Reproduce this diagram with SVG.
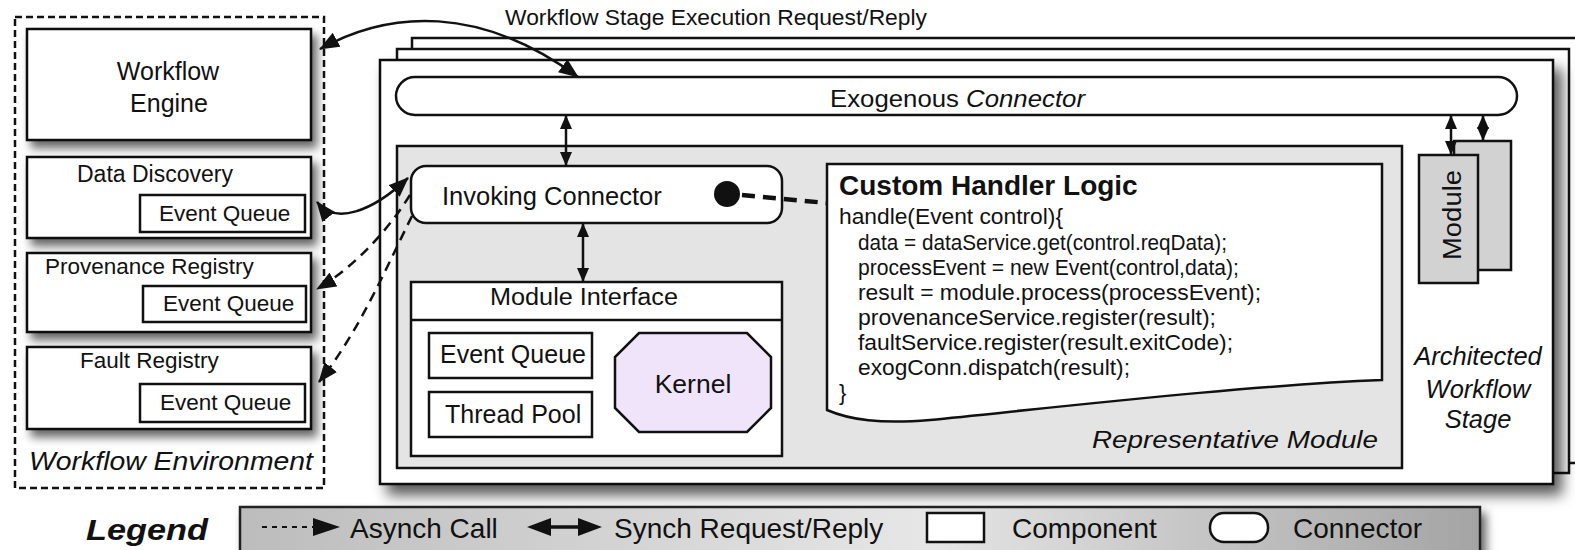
<svg xmlns="http://www.w3.org/2000/svg" width="1575" height="550" viewBox="0 0 1575 550">
<defs>
<style>
text{font-family:"Liberation Sans",Arial,sans-serif;fill:#111}
.box{fill:#fff;stroke:#111;stroke-width:2.5}
.ln{fill:none;stroke:#111;stroke-width:2.5}
.dash{fill:none;stroke:#111;stroke-width:2.5;stroke-dasharray:10 7}
.it{font-style:italic}
.code{font-size:22px}
</style>
<filter id="sh" x="-10%" y="-10%" width="130%" height="140%"><feDropShadow dx="5" dy="7" stdDeviation="5" flood-color="#000" flood-opacity="0.6"/></filter>
<filter id="shBig" x="-5%" y="-5%" width="115%" height="125%"><feDropShadow dx="8" dy="10" stdDeviation="7" flood-color="#000" flood-opacity="0.65"/></filter>
<linearGradient id="lg" x1="0" x2="1" y1="0" y2="0">
<stop offset="0" stop-color="#bcbcbc"/><stop offset="0.55" stop-color="#e6e6e6"/><stop offset="1" stop-color="#a4a4a4"/>
</linearGradient>
<marker id="ah" viewBox="0 0 14 12" refX="13" refY="6" markerWidth="14" markerHeight="12" markerUnits="userSpaceOnUse" orient="auto-start-reverse"><path d="M0,0 L14,6 L0,12 z" fill="#111"/></marker>
<marker id="ahL" viewBox="0 0 20 16" refX="19" refY="8" markerWidth="20" markerHeight="16" markerUnits="userSpaceOnUse" orient="auto-start-reverse"><path d="M0,0 L20,8 L0,16 z" fill="#111"/></marker>
</defs>
<rect width="1575" height="550" fill="#fff"/>

<!-- Workflow environment -->
<g id="workflow-environment">
<rect x="15" y="17" width="309" height="471" fill="none" stroke="#111" stroke-width="2.5" stroke-dasharray="7 4"/>
<text x="29" y="470" class="it" font-size="26" textLength="284" lengthAdjust="spacingAndGlyphs">Workflow Environment</text>
</g>
<g id="workflow-engine">
<rect class="box" x="27" y="29" width="284" height="111" filter="url(#sh)"/>
<text x="168" y="80" font-size="25" text-anchor="middle">Workflow</text>
<text x="169" y="112" font-size="25" text-anchor="middle">Engine</text>
</g>
<g id="data-discovery">
<rect class="box" x="27" y="157" width="284" height="81" filter="url(#sh)"/>
<text x="77" y="182" font-size="23">Data Discovery</text>
<rect class="box" x="140" y="195" width="165" height="37"/>
<text x="159" y="221" font-size="22.5">Event Queue</text>
</g>
<g id="provenance-registry">
<rect class="box" x="27" y="253" width="284" height="79" filter="url(#sh)"/>
<text x="45" y="274" font-size="22.5">Provenance Registry</text>
<rect class="box" x="143" y="286" width="163" height="36"/>
<text x="163" y="311" font-size="22.5">Event Queue</text>
</g>
<g id="fault-registry">
<rect class="box" x="27" y="347" width="284" height="82" filter="url(#sh)"/>
<text x="80" y="368" font-size="22.5">Fault Registry</text>
<rect class="box" x="140" y="384" width="165" height="38"/>
<text x="160" y="410" font-size="22.5">Event Queue</text>
</g>

<!-- Architected workflow stage -->
<g id="workflow-stage">
<rect class="box" x="412" y="38" width="1180" height="425"/>
<rect class="box" x="397" y="49" width="1172" height="424"/>
<rect class="box" x="380" y="60" width="1173" height="424" filter="url(#shBig)"/>
<text class="it" font-size="25.5" text-anchor="middle"><tspan x="1478" y="365">Architected</tspan><tspan x="1478" y="398">Workflow</tspan><tspan x="1478" y="428">Stage</tspan></text>
</g>
<g id="exogenous-connector">
<rect class="box" x="396" y="77" width="1121" height="38" rx="19"/>
<text x="830" y="107" font-size="24" textLength="255" lengthAdjust="spacingAndGlyphs">Exogenous <tspan class="it">Connector</tspan></text>
</g>
<g id="representative-module">
<rect x="397" y="146" width="1005" height="322" fill="#e4e4e4" stroke="#111" stroke-width="2.5"/>
<text x="1092" y="448" class="it" font-size="24" textLength="286" lengthAdjust="spacingAndGlyphs">Representative Module</text>
</g>
<g id="invoking-connector">
<rect class="box" x="411" y="166" width="371" height="57" rx="15"/>
<text x="442" y="205" font-size="25.5">Invoking Connector</text>
<circle cx="727" cy="194" r="13" fill="#111"/>
</g>
<g id="custom-handler-logic">
<path class="box" d="M827 164 H1382 V380 C1250 385 1050 408 930 420 C880 424 850 420 827 410 Z"/>
<text x="839" y="195" font-size="28" font-weight="bold">Custom Handler Logic</text>
<text class="code" x="839" y="224" textLength="224" lengthAdjust="spacingAndGlyphs">handle(Event control){</text>
<text class="code" x="858" y="250" textLength="369" lengthAdjust="spacingAndGlyphs">data = dataService.get(control.reqData);</text>
<text class="code" x="858" y="275" textLength="381" lengthAdjust="spacingAndGlyphs">processEvent = new Event(control,data);</text>
<text class="code" x="858" y="300" textLength="403" lengthAdjust="spacingAndGlyphs">result = module.process(processEvent);</text>
<text class="code" x="858" y="325" textLength="358" lengthAdjust="spacingAndGlyphs">provenanceService.register(result);</text>
<text class="code" x="858" y="350" textLength="375" lengthAdjust="spacingAndGlyphs">faultService.register(result.exitCode);</text>
<text class="code" x="858" y="375" textLength="272" lengthAdjust="spacingAndGlyphs">exogConn.dispatch(result);</text>
<text class="code" x="839" y="400">}</text>
</g>
<g id="module-interface">
<rect class="box" x="411" y="282" width="371" height="174"/>
<line class="ln" x1="411" y1="320" x2="782" y2="320"/>
<text x="490" y="305" font-size="23" textLength="188" lengthAdjust="spacingAndGlyphs">Module Interface</text>
</g>
<g id="event-queue">
<rect class="box" x="429" y="333" width="163" height="45"/>
<text x="440" y="363" font-size="25">Event Queue</text>
</g>
<g id="thread-pool">
<rect class="box" x="429" y="392" width="163" height="45"/>
<text x="445" y="423" font-size="25">Thread Pool</text>
</g>
<g id="kernel">
<polygon points="639,333 747,333 771,357 771,408 747,432 639,432 615,408 615,357" fill="#f0e4fa" stroke="#111" stroke-width="2.5"/>
<text x="693" y="393" font-size="26.5" text-anchor="middle">Kernel</text>
</g>
<g id="module-stack">
<rect x="1454" y="141" width="57" height="129" fill="#d2d2d2" stroke="#111" stroke-width="2.5"/>
<rect x="1419" y="155" width="59" height="128" fill="#d2d2d2" stroke="#111" stroke-width="2.5"/>
<text transform="translate(1461,215) rotate(-90)" font-size="25" text-anchor="middle" textLength="90" lengthAdjust="spacingAndGlyphs">Module</text>
</g>

<!-- Connectors -->
<g id="connectors">
<text x="505" y="25" font-size="21.5" textLength="422" lengthAdjust="spacingAndGlyphs">Workflow Stage Execution Request/Reply</text>
<path class="ln" d="M320 49 C390 10 480 5 578 77" marker-start="url(#ahL)" marker-end="url(#ahL)"/>
<path class="ln" d="M317 202 C335 225 372 212 408 178" marker-start="url(#ahL)" marker-end="url(#ahL)"/>
<path class="dash" d="M410 195 C385 235 350 270 317 289" marker-end="url(#ahL)"/>
<path class="dash" d="M412 216 C385 270 360 330 319 382" marker-end="url(#ahL)"/>
<line class="ln" x1="566" y1="116" x2="566" y2="165" marker-start="url(#ah)" marker-end="url(#ah)"/>
<line class="ln" x1="583" y1="224" x2="583" y2="281" marker-start="url(#ah)" marker-end="url(#ah)"/>
<line class="ln" x1="1451" y1="116" x2="1451" y2="154" marker-start="url(#ah)" marker-end="url(#ah)"/>
<line class="ln" x1="1483" y1="116" x2="1483" y2="140" marker-start="url(#ah)" marker-end="url(#ah)"/>
<path d="M742 195 L827 203" fill="none" stroke="#111" stroke-width="4.5" stroke-dasharray="13 8"/>
</g>

<!-- Legend -->
<g id="legend">
<text x="86" y="540" font-size="30" font-weight="bold" font-style="italic" textLength="122" lengthAdjust="spacingAndGlyphs">Legend</text>
<rect x="240" y="507" width="1240" height="48" fill="url(#lg)" stroke="#222" stroke-width="2.5" filter="url(#sh)"/>
<line x1="262" y1="527" x2="313" y2="527" stroke="#111" stroke-width="2" stroke-dasharray="5 5"/>
<polygon points="313,518 340,527 313,536" fill="#111"/>
<text x="350" y="538" font-size="28">Asynch Call</text>
<line x1="548" y1="527" x2="581" y2="527" stroke="#111" stroke-width="3.5"/>
<polygon points="527,527 551,518 551,536" fill="#111"/>
<polygon points="602,527 578,518 578,536" fill="#111"/>
<text x="614" y="538" font-size="28">Synch Request/Reply</text>
<rect x="927" y="513" width="57" height="29" fill="#fff" stroke="#111" stroke-width="2.5"/>
<text x="1012" y="538" font-size="28">Component</text>
<rect x="1210" y="513" width="58" height="29" rx="14" fill="#fff" stroke="#111" stroke-width="2.5"/>
<text x="1293" y="538" font-size="28">Connector</text>
</g>
</svg>
